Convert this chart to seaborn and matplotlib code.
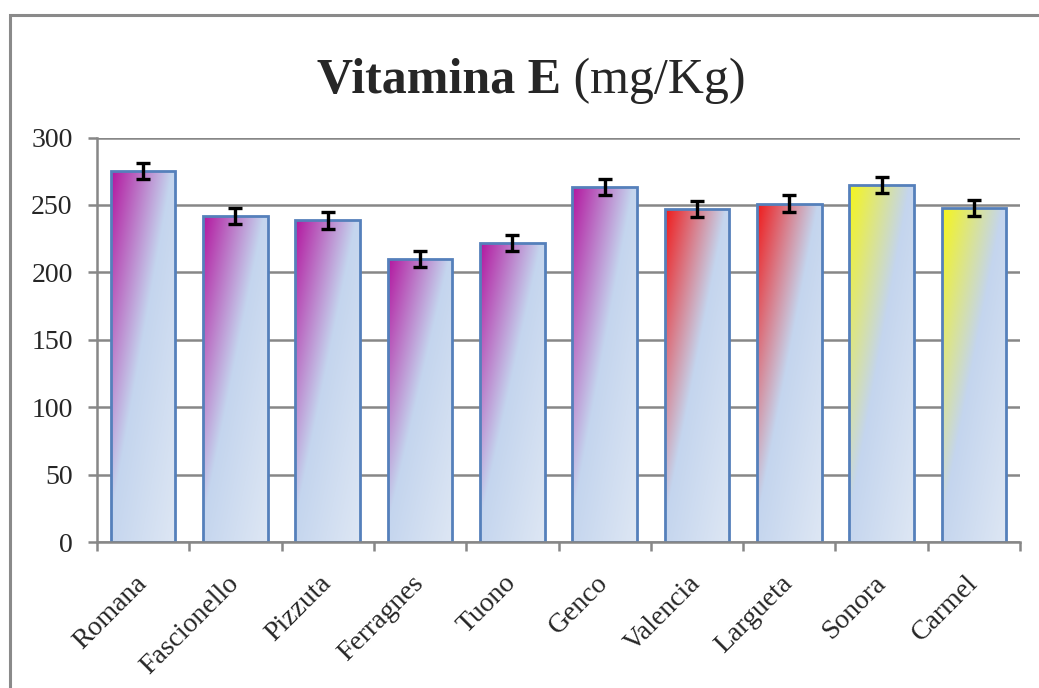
import numpy as np
import matplotlib
matplotlib.use("Agg")
import matplotlib.pyplot as plt
from matplotlib.lines import Line2D
from matplotlib.colors import to_rgb
import seaborn as sns

# Vitamin E content per almond cultivar (mg/Kg) with its error
cultivars = ["Romana", "Fascionello", "Pizzuta", "Ferragnes", "Tuono",
             "Genco", "Valencia", "Largueta", "Sonora", "Carmel"]
vitamin_e = [275, 242, 238.5, 210, 221.5, 263, 247, 251, 265, 248]
vitamin_e_err = [6, 6, 6, 6, 6, 6, 6, 6, 6, 6]
y_ticks = [0, 50, 100, 150, 200, 250, 300]

# style
bar_colors = ["#b3169f"] * 6 + ["#f01a1a"] * 2 + ["#f6f61a"] * 2
blue_mid = "#c4d5ee"
blue_end = "#dee7f4"
edge_color = "#5580bb"
grid_color = "#878787"
serif = "Liberation Serif"

sns.set_theme(style="white")
plt.rcParams["font.family"] = [serif, "DejaVu Serif"]

W, H, DPI = 1039, 688, 100
fig = plt.figure(figsize=(W / DPI, H / DPI), dpi=DPI)
fig.patch.set_facecolor("white")

left, right, top, bottom = 97, 1020, 137.5, 542
ax = fig.add_axes([left / W, 1 - bottom / H, (right - left) / W, (bottom - top) / H])

sns.barplot(x=cultivars, y=vitamin_e, width=0.7, color="white",
            edgecolor=edge_color, linewidth=2.0, errorbar=None, ax=ax)


def gradient_image(base, n=160):
    u = np.linspace(0, 1, n)
    U, D = np.meshgrid(u, u)
    t = (U + D) / 2.0
    stops_t = [0.0, 0.47, 1.0]
    cols = [to_rgb(base), to_rgb(blue_mid), to_rgb(blue_end)]
    img = np.zeros((n, n, 3))
    for c in range(3):
        img[..., c] = np.interp(t, stops_t, [col[c] for col in cols])
    return img


for patch, col in zip(ax.patches, bar_colors):
    x0, y0 = patch.get_x(), patch.get_y()
    w, h = patch.get_width(), patch.get_height()
    patch.set_facecolor("none")
    patch.set_zorder(2)
    im = ax.imshow(gradient_image(col), extent=(x0, x0 + w, y0, y0 + h),
                   origin="upper", aspect="auto", interpolation="bilinear",
                   zorder=1.5)
    im.set_clip_path(patch)

ax.errorbar(np.arange(len(cultivars)), vitamin_e, yerr=vitamin_e_err,
            fmt="none", ecolor="black", elinewidth=2.4, capsize=5.2,
            capthick=2.4, zorder=4)

ax.set_xlim(-0.5, len(cultivars) - 0.5)
ax.set_ylim(0, 300)
ax.set_aspect("auto")

# y axis
ax.set_yticks(y_ticks)
ax.set_yticklabels([str(v) for v in y_ticks], fontsize=20)
ax.yaxis.grid(True, color=grid_color, linewidth=1.8)
ax.set_axisbelow(True)
ax.tick_params(axis="y", which="major", direction="out", length=6.5,
               width=1.8, color=grid_color, pad=11, left=True)

# x axis: ticks on category boundaries, labels on category centres
ax.set_xticks(np.arange(-0.5, len(cultivars), 1.0))
ax.set_xticklabels([])
ax.set_xticks(np.arange(len(cultivars)), minor=True)
ax.set_xticklabels(cultivars, minor=True, fontsize=20, rotation=45,
                   ha="right", va="center", rotation_mode="anchor")
ax.tick_params(axis="x", which="major", direction="out", length=6.5,
               width=1.8, color=grid_color, bottom=True)
ax.tick_params(axis="x", which="minor", length=0, pad=27)
ax.set_xlabel("")
ax.set_ylabel("")

for s in ["top", "right"]:
    ax.spines[s].set_visible(False)
for s in ["left", "bottom"]:
    ax.spines[s].set_color(grid_color)
    ax.spines[s].set_linewidth(1.8)

# title: bold name followed by regular unit
renderer = fig.canvas.get_renderer()
t1 = fig.text(0, 0, "Vitamina E", fontsize=36, fontweight="bold",
              family=[serif], transform=None)
t2 = fig.text(0, 0, " (mg/Kg)", fontsize=36, family=[serif], transform=None)
w1 = t1.get_window_extent(renderer).width
w2 = t2.get_window_extent(renderer).width
cx, base_y = 531.5, H - 93
start = cx - (w1 + w2) / 2
t1.set_position((start, base_y))
t1.set_va("baseline")
t2.set_position((start + w1, base_y))
t2.set_va("baseline")

# outer frame (top and left edges)
fx, fy = 9.5 / W, 1 - 15 / H
fig.add_artist(Line2D([fx, fx, 1.0], [0.0, fy, fy], transform=fig.transFigure,
                      color="#8a8a8a", linewidth=2.2, solid_joinstyle="miter"))

fig.savefig("out.png", dpi=DPI, facecolor="white")
